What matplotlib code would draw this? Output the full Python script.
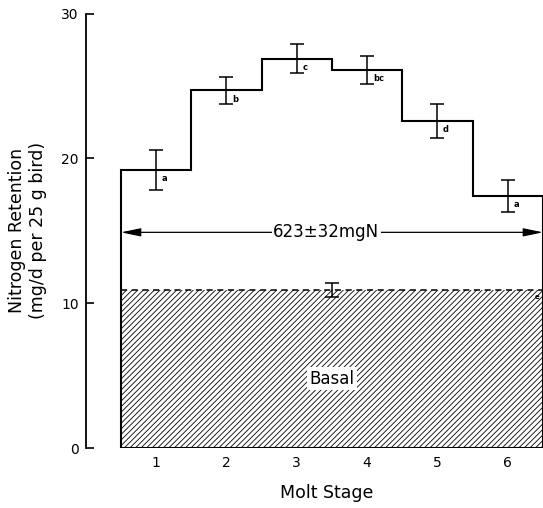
import matplotlib
matplotlib.use("Agg")
import matplotlib.pyplot as plt

plt.rcParams['font.family'] = ['DejaVu Sans']
plt.rcParams['hatch.linewidth'] = 0.6

# data
stages = [1, 2, 3, 4, 5, 6]
retention = [19.2, 24.7, 26.9, 26.1, 22.6, 17.4]
retention_err = [1.4, 0.95, 1.0, 0.95, 1.15, 1.1]
sig_letters = ['a', 'b', 'c', 'bc', 'd', 'a']
basal = 10.9
basal_err = 0.5
total_label = "623\u00b132mgN"
total_y = 14.9

edges = [s - 0.5 for s in stages] + [stages[-1] + 0.5]

fig = plt.figure(figsize=(5.43, 5.08), dpi=100)
ax = fig.add_axes([0.158, 0.118, 0.842, 0.855])

# basal hatched block
ax.fill_between([edges[0], edges[-1]], 0, basal, facecolor='white',
                edgecolor='black', hatch='//////', linewidth=0)
ax.hlines(basal, edges[0], edges[-1], colors='black', linestyles=(0, (4, 3)), lw=1.1)
ax.hlines(0, edges[0], edges[-1], colors='black', lw=1.5)
ax.errorbar([3.5], [basal], yerr=[basal_err], fmt='none', ecolor='black',
            capsize=5, elinewidth=1.1, capthick=1.1)
ax.text(6.42, basal - 0.45, 'e', fontsize=5, fontweight='bold', ha='center', va='center')
ax.text(3.5, 4.8, 'Basal', fontsize=12, ha='center', va='center',
        bbox=dict(facecolor='white', edgecolor='none', pad=2))

# step outline of total retention
ax.stairs(retention, edges, baseline=0, color='black', lw=1.5)
ax.errorbar(stages, retention, yerr=retention_err, fmt='none', ecolor='black',
            capsize=5, elinewidth=1.1, capthick=1.1)
for s, v, lab in zip(stages, retention, sig_letters):
    ax.text(s + 0.08, v - 0.6, lab, fontsize=6, fontweight='bold', ha='left', va='center')

# total arrow
ax.annotate('', xy=(edges[0], total_y), xytext=(edges[-1], total_y),
            arrowprops=dict(arrowstyle='<|-|>,head_length=1.2,head_width=0.25',
                            color='black', lw=0.9, shrinkA=0, shrinkB=0))
ax.text(3.42, total_y, total_label, fontsize=12, ha='center', va='center',
        bbox=dict(facecolor='white', edgecolor='none', pad=1))

ax.set_xlim(0, 6.5)
ax.set_ylim(0, 30)
ax.set_yticks([0, 10, 20, 30])
ax.set_xticks(stages)
ax.tick_params(axis='y', direction='in', length=6, width=1.2, labelsize=10, pad=5)
ax.tick_params(axis='x', length=0, labelsize=10, pad=6)
for side in ['top', 'right', 'bottom']:
    ax.spines[side].set_visible(False)
ax.spines['left'].set_linewidth(1.3)

ax.set_xlabel('Molt Stage', fontsize=12.5, labelpad=10)
ax.xaxis.label.set_x(0.527)
ax.set_ylabel('Nitrogen Retention\n(mg/d per 25 g bird)', fontsize=12.5, labelpad=10,
              linespacing=1.25)

fig.savefig('out.png', dpi=100)
